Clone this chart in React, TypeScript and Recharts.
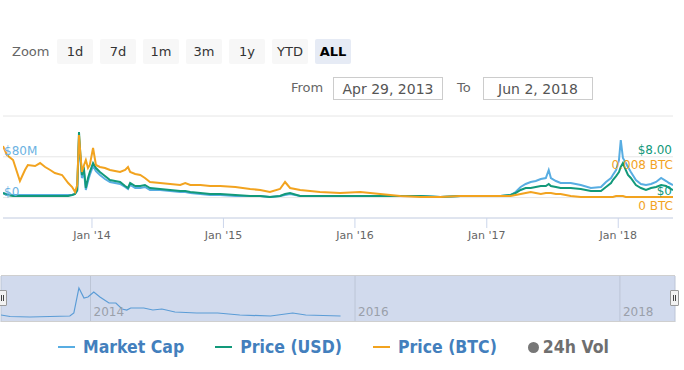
import React from 'react'
import { LineChart, Line, XAxis, YAxis, CartesianGrid } from 'recharts'

// main series (market cap in $M, prices in USD / BTC)
const dates = [
  '2013-04-29', '2013-05-10', '2013-05-27', '2013-06-15', '2013-06-29', '2013-07-07', '2013-07-27',
  '2013-08-10', '2013-08-24', '2013-09-07', '2013-09-20', '2013-10-10', '2013-10-27', '2013-11-07',
  '2013-11-15', '2013-11-21', '2013-11-26', '2013-11-29', '2013-12-04', '2013-12-10', '2013-12-15',
  '2013-12-21', '2013-12-26', '2014-01-04', '2014-01-12', '2014-01-23', '2014-02-06', '2014-02-20',
  '2014-03-06', '2014-03-20', '2014-04-03', '2014-04-11', '2014-04-17', '2014-05-01', '2014-05-15',
  '2014-05-28', '2014-06-11', '2014-07-09', '2014-08-06', '2014-09-03', '2014-09-17', '2014-10-01',
  '2014-10-29', '2014-11-25', '2014-12-23', '2015-02-03', '2015-03-16', '2015-04-13', '2015-05-10',
  '2015-06-07', '2015-06-21', '2015-07-05', '2015-08-02', '2015-09-26', '2015-11-21', '2016-01-16',
  '2016-03-11', '2016-05-06', '2016-07-01', '2016-08-25', '2016-10-20', '2016-12-15', '2017-02-08',
  '2017-03-08', '2017-03-22', '2017-04-05', '2017-04-19', '2017-05-03', '2017-05-17', '2017-05-31',
  '2017-06-14', '2017-06-22', '2017-06-28', '2017-07-12', '2017-07-25', '2017-08-22', '2017-09-19',
  '2017-10-17', '2017-11-14', '2017-11-28', '2017-12-12', '2017-12-17', '2017-12-26', '2018-01-03',
  '2018-01-08', '2018-01-14', '2018-01-22', '2018-01-28', '2018-02-05', '2018-02-19', '2018-03-05',
  '2018-03-19', '2018-04-02', '2018-04-16', '2018-04-30', '2018-05-14', '2018-05-22', '2018-06-02',
]

const marketCap = [
  9.0, 7.1, 5.1, 5.1, 5.1, 5.1, 5.1, 5.1, 5.1, 5.1, 5.1, 5.1, 5.1, 5.1,
  7.1, 12.9, 116.8, 83.5, 38.4, 48.2, 14.9, 32.5, 44.3, 61.9, 52.1, 44.3, 36.5, 30.6,
  28.6, 26.7, 20.8, 16.9, 24.7, 18.8, 18.8, 20.8, 14.9, 14.9, 12.9, 11.0, 11.0, 9.0,
  7.1, 5.1, 5.1, 3.1, 3.1, 3.1, 1.2, 3.1, 5.1, 7.1, 3.1, 3.1, 3.1, 3.1,
  3.1, 3.1, 3.1, 1.2, 3.1, 3.1, 3.1, 5.1, 11.0, 20.8, 26.7, 30.6, 32.5, 36.5,
  38.4, 54.1, 38.4, 32.5, 28.6, 28.6, 24.7, 18.8, 20.8, 30.6, 38.4, 44.3, 54.1, 73.7,
  112.9, 77.6, 67.8, 60.0, 50.2, 34.5, 26.7, 24.7, 26.7, 30.6, 38.4, 32.5, 28.6, 24.7,
]

const priceUsd = [
  0.9, 0.51, 0.31, 0.31, 0.31, 0.31, 0.31, 0.31, 0.31, 0.31, 0.31, 0.31, 0.31, 0.51,
  0.71, 1.49, 12.86, 9.33, 4.43, 5.41, 1.88, 3.84, 5.02, 6.78, 5.8, 5.02, 4.23, 3.45,
  3.25, 3.06, 2.27, 1.88, 2.86, 2.27, 2.27, 2.47, 1.88, 1.69, 1.49, 1.29, 1.29, 1.1,
  0.9, 0.71, 0.71, 0.51, 0.31, 0.31, 0.12, 0.31, 0.71, 0.9, 0.31, 0.31, 0.31, 0.31,
  0.31, 0.31, 0.31, 0.12, 0.31, 0.31, 0.31, 0.51, 0.9, 1.49, 1.88, 1.88, 2.08, 2.27,
  2.27, 2.67, 2.27, 2.08, 1.88, 1.88, 1.69, 1.29, 1.29, 2.08, 2.86, 3.45, 4.23, 5.02,
  6.0, 6.78, 5.41, 4.43, 3.84, 2.47, 1.88, 1.49, 1.88, 2.08, 2.47, 2.27, 1.88, 1.49,
]

const priceBtc = [
  0.0101, 0.00835, 0.00737, 0.00325, 0.00541, 0.00639, 0.00619, 0.00678, 0.006, 0.00541, 0.00482, 0.00443, 0.00286, 0.00208,
  0.0011, 0.00247, 0.01227, 0.00933, 0.00502, 0.00639, 0.00737, 0.0058, 0.00639, 0.00972, 0.00639, 0.006, 0.0058, 0.00541,
  0.00521, 0.00502, 0.00541, 0.006, 0.00502, 0.00463, 0.00443, 0.00384, 0.00306, 0.00286, 0.00267, 0.00247, 0.00286, 0.00247,
  0.00247, 0.00227, 0.00227, 0.00208, 0.00169, 0.00149, 0.0011, 0.00169, 0.00306, 0.00188, 0.00149, 0.0011, 0.0009, 0.0011,
  0.00071, 0.00031, 0.00012, 0.00012, 0.00031, 0.00031, 0.00031, 0.00031, 0.00051, 0.00071, 0.0009, 0.0011, 0.0009, 0.00071,
  0.0009, 0.0009, 0.0009, 0.00071, 0.00071, 0.00031, 0.00012, 0.00012, 0.00012, 0.00012, 0.00012, 0.00012, 0.00031, 0.00031,
  0.00031, 0.00031, 0.00012, 0.00012, 0.00012, 0.00012, 0.00012, 0.00012, 0.00012, 0.00012, 0.00012, 0.00012, 0.00012, 0.00012,
]

// navigator series
const navDates = [
  '2013-04-29', '2013-05-24', '2013-07-18', '2013-09-11', '2013-11-05', '2013-11-16', '2013-11-30',
  '2013-12-14', '2013-12-25', '2014-01-10', '2014-01-27', '2014-02-21', '2014-03-12', '2014-03-29',
  '2014-04-11', '2014-04-22', '2014-05-28', '2014-06-22', '2014-07-17', '2014-08-22', '2014-10-21',
  '2014-12-18', '2015-02-17', '2015-05-13', '2015-07-13', '2015-08-18', '2015-11-22',
]
const navValues = [
  7, 5.5, 5, 5.5, 6, 9, 34, 24, 25, 30, 25, 19, 19, 13,
  12, 14, 14, 12, 13, 10, 9, 9, 7, 6, 9, 7, 6,
]

const startDate = '2013-04-29'
const endDate = '2018-06-02'
const yearTicks = ['2014-01-01', '2015-01-01', '2016-01-01', '2017-01-01', '2018-01-01']
const navYearTicks = ['2014-01-01', '2016-01-01', '2018-01-01']

const capTicks = [0, 80, 160]
const capLabelTicks = [0, 80]
const usdTicks = [0, 8]
const btcTicks = [0, 0.008]

const zoomButtons = ['1d', '7d', '1m', '3m', '1y', 'YTD', 'ALL']
const fromLabel = 'Apr 29, 2013'
const toLabel = 'Jun 2, 2018'

const seriesNames = ['Market Cap', 'Price (USD)', 'Price (BTC)', '24h Vol']

const BLUE = '#58ade2'
const GREEN = '#12997a'
const ORANGE = '#f2a31f'
const FONT = '"DejaVu Sans", sans-serif'

const ts = (d: string) => new Date(d + 'T00:00:00Z').getTime()

const rows = dates.map((d, i) => ({
  t: ts(d),
  cap: marketCap[i],
  usd: priceUsd[i],
  btc: priceBtc[i],
}))
const navRows = navDates.map((d, i) => ({ t: ts(d), v: navValues[i] }))

const CapTick = (props: any) => {
  const { x, y, payload } = props
  if (!capLabelTicks.includes(payload.value)) return <g />
  return (
    <text x={x} y={y - 2} fill="#6cb2e2" fontSize={12} textAnchor="start">
      {payload.value === 0 ? '$0' : `$${payload.value}M`}
    </text>
  )
}

const UsdTick = (props: any) => {
  const { x, y, payload } = props
  return (
    <text x={x} y={y - 3} fill={GREEN} fontSize={12} textAnchor="end">
      {payload.value === 0 ? '$0' : `$${payload.value.toFixed(2)}`}
    </text>
  )
}

const BtcTick = (props: any) => {
  const { x, y, payload } = props
  return (
    <text x={x} y={y + 12} fill={ORANGE} fontSize={12} textAnchor="end">
      {`${payload.value} BTC`}
    </text>
  )
}

const NavTick = (props: any) => {
  const { x, y, payload } = props
  return (
    <text x={x + 3} y={y - 6} fill="#9aa0aa" fontSize={12} textAnchor="start">
      {new Date(payload.value).getUTCFullYear()}
    </text>
  )
}

const Handle = ({ left }: { left: number }) => (
  <div
    style={{
      position: 'absolute',
      left,
      top: 290,
      width: 7,
      height: 14,
      background: '#f2f2f2',
      border: '1px solid #999',
      borderRadius: 1,
    }}
  >
    <div style={{ position: 'absolute', left: 2, top: 4, width: 1, height: 6, background: '#444' }} />
    <div style={{ position: 'absolute', left: 4, top: 4, width: 1, height: 6, background: '#444' }} />
  </div>
)

export default function App() {
  const domain = [ts(startDate), ts(endDate)]
  const legendColors = [BLUE, GREEN, ORANGE, '#777']

  return (
    <div
      style={{
        position: 'absolute',
        left: 0,
        top: 0,
        width: 684,
        height: 370,
        background: '#fff',
        fontFamily: FONT,
        overflow: 'hidden',
      }}
    >
      {/* range selector */}
      <div style={{ position: 'absolute', left: 12, top: 44, fontSize: 13, color: '#666' }}>Zoom</div>
      {zoomButtons.map((b, i) => (
        <div
          key={b}
          style={{
            position: 'absolute',
            left: 57 + i * 43,
            top: 39,
            width: 36,
            height: 25,
            lineHeight: '25px',
            textAlign: 'center',
            fontSize: 13,
            background: b === 'ALL' ? '#e6ebf5' : '#f7f7f7',
            color: b === 'ALL' ? '#000' : '#333',
            fontWeight: b === 'ALL' ? 'bold' : 'normal',
            borderRadius: 2,
          }}
        >
          {b}
        </div>
      ))}
      <div style={{ position: 'absolute', left: 291, top: 80, fontSize: 13, color: '#666' }}>From</div>
      <div
        style={{
          position: 'absolute',
          left: 333,
          top: 77,
          width: 110,
          height: 23,
          border: '1px solid #ccc',
          boxSizing: 'border-box',
          textAlign: 'center',
          lineHeight: '22px',
          fontSize: 14,
          color: '#555',
        }}
      >
        {fromLabel}
      </div>
      <div style={{ position: 'absolute', left: 457, top: 80, fontSize: 13, color: '#666' }}>To</div>
      <div
        style={{
          position: 'absolute',
          left: 483,
          top: 77,
          width: 110,
          height: 23,
          border: '1px solid #ccc',
          boxSizing: 'border-box',
          textAlign: 'center',
          lineHeight: '22px',
          fontSize: 14,
          color: '#555',
        }}
      >
        {toLabel}
      </div>

      {/* main chart */}
      <div style={{ position: 'absolute', left: 0, top: 110 }}>
        <LineChart width={684} height={140} data={rows} margin={{ top: 6, right: 11, bottom: 0, left: 3 }}>
          <CartesianGrid yAxisId="cap" vertical={false} stroke="#e6e6e6" />
          <XAxis
            dataKey="t"
            type="number"
            domain={domain}
            allowDataOverflow
            ticks={yearTicks.map(ts)}
            tickFormatter={(t: number) => `Jan '${String(new Date(t).getUTCFullYear()).slice(2)}`}
            height={32}
            tickSize={10}
            tickMargin={3}
            stroke="#ccd6eb"
            tick={{ fill: '#666', fontSize: 11 }}
          />
          <YAxis
            yAxisId="cap"
            orientation="left"
            width={1}
            mirror
            domain={[-40, 160]}
            ticks={capTicks}
            axisLine={false}
            tickLine={false}
            tickSize={0}
            tickMargin={1}
            tick={CapTick}
          />
          <YAxis
            yAxisId="usd"
            orientation="right"
            width={1}
            mirror
            domain={[-4, 16]}
            ticks={usdTicks}
            axisLine={false}
            tickLine={false}
            tickSize={0}
            tickMargin={0}
            tick={UsdTick}
          />
          <YAxis
            yAxisId="btc"
            orientation="right"
            width={1}
            mirror
            domain={[-0.004, 0.016]}
            ticks={btcTicks}
            axisLine={false}
            tickLine={false}
            tickSize={0}
            tickMargin={0}
            tick={BtcTick}
          />
          <Line yAxisId="cap" dataKey="cap" name={seriesNames[0]} stroke={BLUE} strokeWidth={2} dot={false} isAnimationActive={false} />
          <Line yAxisId="usd" dataKey="usd" name={seriesNames[1]} stroke={GREEN} strokeWidth={2} dot={false} isAnimationActive={false} />
          <Line yAxisId="btc" dataKey="btc" name={seriesNames[2]} stroke={ORANGE} strokeWidth={2} dot={false} isAnimationActive={false} />
        </LineChart>
      </div>

      {/* navigator */}
      <div style={{ position: 'absolute', left: 0, top: 270 }}>
        <LineChart width={684} height={53} data={navRows} margin={{ top: 6, right: 9, bottom: 0, left: 1 }}>
          <CartesianGrid horizontal={false} fill="#d1daed" fillOpacity={1} stroke="#bcc5d6" />
          <XAxis
            dataKey="t"
            type="number"
            domain={domain}
            allowDataOverflow
            ticks={navYearTicks.map(ts)}
            height={1}
            axisLine={false}
            tickLine={false}
            tickSize={0}
            tickMargin={0}
            tick={NavTick}
          />
          <YAxis hide domain={[0, 46]} />
          <Line dataKey="v" stroke="#5b9cd6" strokeWidth={1.2} dot={false} isAnimationActive={false} />
        </LineChart>
      </div>
      <div
        style={{
          position: 'absolute',
          left: 1,
          top: 275,
          width: 674,
          height: 47,
          borderTop: '1px solid #cfcfcf',
          borderBottom: '1px solid #cfcfcf',
          boxSizing: 'border-box',
          pointerEvents: 'none',
        }}
      />
      <Handle left={-2} />
      <Handle left={670} />

      {/* legend */}
      <div
        style={{
          position: 'absolute',
          left: 58,
          top: 336,
          display: 'flex',
          alignItems: 'center',
          height: 22,
          fontFamily: '"DejaVu Sans Condensed", "DejaVu Sans", sans-serif',
          fontWeight: 'bold',
          fontSize: 17.5,
          whiteSpace: 'nowrap',
        }}
      >
        {seriesNames.map((n, i) => (
          <div key={n} style={{ display: 'flex', alignItems: 'center', marginRight: 31 }}>
            {i < 3 ? (
              <div style={{ width: 17, height: 2, background: legendColors[i], marginRight: 8 }} />
            ) : (
              <div style={{ width: 11, height: 11, borderRadius: '50%', background: legendColors[i], marginRight: 4 }} />
            )}
            <span style={{ color: i < 3 ? '#437fbd' : '#6f6f6f' }}>{n}</span>
          </div>
        ))}
      </div>
    </div>
  )
}
